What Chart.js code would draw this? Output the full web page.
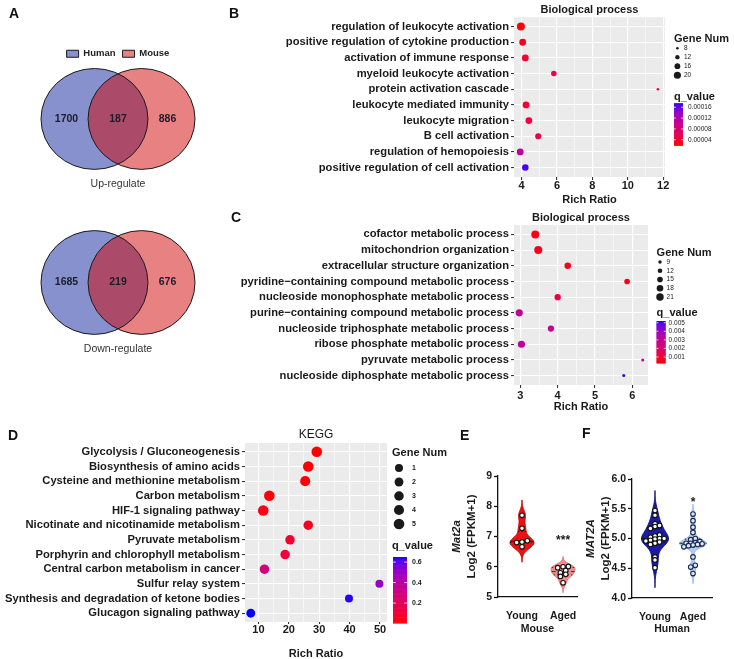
<!DOCTYPE html>
<html>
<head>
<meta charset="utf-8">
<title>Mat2a figure</title>
<script src="https://cdn.jsdelivr.net/npm/chart.js@4.4.1/dist/chart.umd.min.js"></script>
<style>
  body { margin: 0; background: #fff; }
  #page { position: relative; width: 734px; height: 659px; overflow: hidden; }
  .box { position: absolute; }
  .tag { position: absolute; font: bold 14px "Liberation Sans", Arial, sans-serif; color: #111; line-height: 14px; }
</style>
</head>
<body>
<div id="page">
  <div class="box" style="left:0;top:0;width:200px;height:198px"><canvas id="vennUp"></canvas></div>
  <div class="box" style="left:0;top:200px;width:200px;height:163px"><canvas id="vennDown"></canvas></div>
  <div class="box" style="left:190px;top:0;width:544px;height:205px"><canvas id="chartB"></canvas></div>
  <div class="box" style="left:190px;top:200px;width:544px;height:212px"><canvas id="chartC"></canvas></div>
  <div class="box" style="left:0;top:410px;width:480px;height:249px"><canvas id="chartD"></canvas></div>
  <div class="box" style="left:445px;top:465px;width:140px;height:170px"><canvas id="chartE"></canvas></div>
  <div class="box" style="left:580px;top:465px;width:154px;height:170px"><canvas id="chartF"></canvas></div>
  <div class="tag" style="left:9px;top:6px">A</div>
  <div class="tag" style="left:229px;top:6px">B</div>
  <div class="tag" style="left:231px;top:210px">C</div>
  <div class="tag" style="left:8px;top:428px">D</div>
  <div class="tag" style="left:460px;top:428px">E</div>
  <div class="tag" style="left:582px;top:426px">F</div>
</div>
<script>
// ---------- data ----------
// Panel A: Venn counts (Human only, shared, Mouse only)
const vennSets = ["Human", "Mouse"];
const vennUpCounts = [1700, 187, 886];
const vennDownCounts = [1685, 219, 676];

// Panel B: GO enrichment, up-regulated
const bTerms = [
  "regulation of leukocyte activation",
  "positive regulation of cytokine production",
  "activation of immune response",
  "myeloid leukocyte activation",
  "protein activation cascade",
  "leukocyte mediated immunity",
  "leukocyte migration",
  "B cell activation",
  "regulation of hemopoiesis",
  "positive regulation of cell activation"
];
const bRichRatio = [3.96, 4.06, 4.21, 5.82, 11.7, 4.25, 4.41, 4.94, 3.92, 4.21];
const bGeneNum = [23, 19, 19, 15, 8, 19, 19, 17, 19, 18];
const bQValue = [0.000022, 0.00003, 0.00004, 0.00005, 0.00006, 0.00004, 0.00005, 0.00006, 0.000108, 0.000168];
const bXTicks = [4, 5, 6, 7, 8, 9, 10, 11, 12];
const bXLabels = [4, 6, 8, 10, 12];
const bSizeTicks = [8, 12, 16, 20];
const bQTicks = [0.00004, 0.00008, 0.00012, 0.00016];

// Panel C: GO enrichment, down-regulated
const cTerms = [
  "cofactor metabolic process",
  "mitochondrion organization",
  "extracellular structure organization",
  "pyridine\u2212containing compound metabolic process",
  "nucleoside monophosphate metabolic process",
  "purine\u2212containing compound metabolic process",
  "nucleoside triphosphate metabolic process",
  "ribose phosphate metabolic process",
  "pyruvate metabolic process",
  "nucleoside diphosphate metabolic process"
];
const cRichRatio = [3.4, 3.48, 4.27, 5.86, 4.0, 2.97, 3.82, 3.03, 6.28, 5.77];
const cGeneNum = [23, 23, 18, 15, 17, 20, 17, 20, 8, 8];
const cQValue = [0.0005, 0.0005, 0.0007, 0.0007, 0.0013, 0.003, 0.0028, 0.003, 0.0033, 0.0051];
const cXTicks = [3, 3.5, 4, 4.5, 5, 5.5, 6];
const cXLabels = [3, 4, 5, 6];
const cSizeTicks = [9, 12, 15, 18, 21];
const cQTicks = [0.001, 0.002, 0.003, 0.004, 0.005];

// Panel D: KEGG
const dTerms = [
  "Glycolysis / Gluconeogenesis",
  "Biosynthesis of amino acids",
  "Cysteine and methionine metabolism",
  "Carbon metabolism",
  "HIF-1 signaling pathway",
  "Nicotinate and nicotinamide metabolism",
  "Pyruvate metabolism",
  "Porphyrin and chlorophyll metabolism",
  "Central carbon metabolism in cancer",
  "Sulfur relay system",
  "Synthesis and degradation of ketone bodies",
  "Glucagon signaling pathway"
];
const dRichRatio = [29.2, 26.4, 25.4, 13.6, 11.6, 26.4, 20.4, 18.8, 12.0, 49.8, 39.8, 7.5];
const dGeneNum = [5, 5, 4, 5, 5, 3, 3, 3, 3, 1, 1, 2];
const dQValue = [0.005, 0.01, 0.015, 0.01, 0.03, 0.05, 0.09, 0.1, 0.28, 0.5, 0.64, 0.65];
const dXTicks = [10, 15, 20, 25, 30, 35, 40, 45, 50];
const dXLabels = [10, 20, 30, 40, 50];
const dSizeTicks = [1, 2, 3, 4, 5];
const dQTicks = [0.2, 0.4, 0.6];

// Panels E / F: expression
const groups = ["Young", "Aged"];
const eYoung = [7.7, 7.27, 6.86, 6.82, 6.8, 6.66];
const eAged = [6.01, 6.0, 5.97, 5.88, 5.8, 5.75, 5.68, 5.47];
const eStars = ["", "***"];
const eStarY = [null, 6.85];
const fYoung = [5.47, 5.39, 5.25, 5.22, 5.2, 5.17, 5.06, 5.04, 5.02, 5.0, 5.0, 4.99, 4.97, 4.96, 4.94, 4.92, 4.9, 4.69, 4.64, 4.51];
const fAged = [5.41, 5.3, 5.19, 5.1, 5.0, 4.98, 4.95, 4.93, 4.92, 4.92, 4.91, 4.9, 4.89, 4.88, 4.86, 4.69, 4.55, 4.52, 4.41];
const fStars = ["", "*"];
const fStarY = [null, 5.6];

// ---------- helpers ----------
const FONT = '"Liberation Sans", Arial, sans-serif';
const INK = "#1a1a1a";
Chart.defaults.font.family = FONT;
Chart.defaults.color = INK;

// ggplot style red -> blue gradient, interpolated in CIELAB
function toLab(rgb) {
  const lin = rgb.map(c => { c /= 255; return c <= 0.04045 ? c / 12.92 : Math.pow((c + 0.055) / 1.055, 2.4); });
  const X = (0.4124 * lin[0] + 0.3576 * lin[1] + 0.1805 * lin[2]) / 0.95047;
  const Y = 0.2126 * lin[0] + 0.7152 * lin[1] + 0.0722 * lin[2];
  const Z = (0.0193 * lin[0] + 0.1192 * lin[1] + 0.9505 * lin[2]) / 1.08883;
  const f = t => t > 0.008856 ? Math.cbrt(t) : 7.787 * t + 16 / 116;
  return [116 * f(Y) - 16, 500 * (f(X) - f(Y)), 200 * (f(Y) - f(Z))];
}
function fromLab(lab) {
  const fy = (lab[0] + 16) / 116, fx = fy + lab[1] / 500, fz = fy - lab[2] / 200;
  const inv = t => t > 0.206893 ? t * t * t : (t - 16 / 116) / 7.787;
  const X = inv(fx) * 0.95047, Y = inv(fy), Z = inv(fz) * 1.08883;
  const lin = [3.2406 * X - 1.5372 * Y - 0.4986 * Z, -0.9689 * X + 1.8758 * Y + 0.0415 * Z, 0.0557 * X - 0.2040 * Y + 1.0570 * Z];
  const c = lin.map(v => {
    v = v <= 0.0031308 ? 12.92 * v : 1.055 * Math.pow(v, 1 / 2.4) - 0.055;
    return Math.round(Math.min(1, Math.max(0, v)) * 255);
  });
  return "rgb(" + c.join(",") + ")";
}
const LAB_LOW = toLab([255, 0, 0]);
const LAB_HIGH = toLab([0, 0, 255]);
function rampColor(t) {
  t = Math.min(1, Math.max(0, t));
  return fromLab(LAB_LOW.map((v, i) => v + (LAB_HIGH[i] - v) * t));
}

// grey ggplot panel
const panelBackground = {
  id: "panelBackground",
  beforeDraw(chart) {
    const { ctx, chartArea: a } = chart;
    ctx.save();
    ctx.fillStyle = "#ebebeb";
    ctx.fillRect(a.left, a.top, a.width, a.height);
    ctx.restore();
  }
};

// "Gene Num" size keys and "q_value" colour bar
function dotLegend(p, sizeOf) {
  return {
    id: "dotLegend",
    afterDraw(chart) {
      const { ctx, chartArea: a } = chart;
      const L = p.legend;
      const x0 = a.right + L.dx;
      ctx.save();
      ctx.textBaseline = "middle";
      ctx.textAlign = "left";
      ctx.fillStyle = INK;
      ctx.font = "bold " + L.titleSize + "px " + FONT;
      ctx.fillText("Gene Num", x0, a.top + L.sizeTitleY);
      p.sizeTicks.forEach((g, i) => {
        const y = a.top + L.sizeKeyY + i * L.sizeKeyStep;
        ctx.beginPath();
        ctx.arc(x0 + L.keyX, y, sizeOf(g), 0, Math.PI * 2);
        ctx.fill();
        ctx.font = L.labelWeight + " " + L.labelSize + "px " + FONT;
        ctx.fillText(String(g), x0 + L.labelX, y);
      });
      ctx.font = "bold " + L.titleSize + "px " + FONT;
      ctx.fillText("q_value", x0, a.top + L.qTitleY);
      const bx = x0 + L.barX, by = a.top + L.barY, bw = L.barW, bh = L.barH;
      const bins = 80;
      for (let k = 0; k < bins; k++) {
        ctx.fillStyle = rampColor(1 - (k + 0.5) / bins);
        ctx.fillRect(bx, by + k * bh / bins, bw, bh / bins + 0.6);
      }
      const [q0, q1] = p.qRange;
      ctx.strokeStyle = "#fff";
      ctx.lineWidth = 0.8;
      ctx.fillStyle = INK;
      ctx.font = L.labelWeight + " " + L.labelSize + "px " + FONT;
      p.qTicks.forEach(q => {
        const y = by + bh * (1 - (q - q0) / (q1 - q0));
        ctx.beginPath();
        ctx.moveTo(bx, y); ctx.lineTo(bx + bw * 0.2, y);
        ctx.moveTo(bx + bw * 0.8, y); ctx.lineTo(bx + bw, y);
        ctx.stroke();
        ctx.fillText(q.toFixed(p.qDigits), bx + bw + L.barGap, y);
      });
      ctx.restore();
    }
  };
}

function dotChart(canvasId, p) {
  const gLo = Math.sqrt(p.sizeRange[0]), gHi = Math.sqrt(p.sizeRange[1]);
  const sizeOf = g => p.rMin + (p.rMax - p.rMin) * (Math.sqrt(g) - gLo) / (gHi - gLo);
  const colourOf = q => rampColor((q - p.qRange[0]) / (p.qRange[1] - p.qRange[0]));
  const isMajor = v => p.xLabels.includes(v);
  const n = p.terms.length;
  return new Chart(document.getElementById(canvasId), {
    type: "scatter",
    data: {
      datasets: [{
        data: p.ratio.map((x, i) => ({ x: x, y: i })),
        pointRadius: p.genes.map(sizeOf),
        pointBackgroundColor: p.q.map(colourOf),
        pointBorderWidth: 0,
        clip: false
      }]
    },
    options: {
      responsive: true,
      maintainAspectRatio: false,
      animation: false,
      events: [],
      layout: { padding: { left: 0, right: p.padRight, top: 0, bottom: 0 } },
      plugins: {
        legend: { display: false },
        tooltip: { enabled: false },
        title: { display: true, text: p.title, fullSize: false, color: INK, font: p.titleFont, padding: p.titlePad }
      },
      scales: {
        x: {
          type: "linear",
          min: p.xRange[0],
          max: p.xRange[1],
          afterBuildTicks: s => { s.ticks = p.xTicks.map(value => ({ value })); },
          afterFit: s => { s.height = p.xHeight; },
          grid: {
            color: "#fff",
            lineWidth: c => (c.tick && isMajor(c.tick.value)) ? 1.1 : 0.55,
            tickColor: c => (c.tick && isMajor(c.tick.value)) ? "#333" : "rgba(0,0,0,0)",
            tickLength: p.tickLen
          },
          border: { display: false },
          ticks: {
            autoSkip: false, maxRotation: 0, padding: p.xTickPad, color: INK,
            font: { size: 11, weight: "bold", lineHeight: 1 },
            callback: v => isMajor(v) ? String(v) : ""
          },
          title: { display: true, text: "Rich Ratio", color: INK, font: { size: 11, weight: "bold", lineHeight: 1 }, padding: { top: p.xTitlePad, bottom: 0 } }
        },
        y: {
          type: "linear",
          reverse: true,
          min: -0.6,
          max: n - 0.4,
          afterBuildTicks: s => { s.ticks = p.terms.map((t, i) => ({ value: i })); },
          afterFit: s => { s.width = p.yWidth; },
          grid: { color: "#fff", lineWidth: 1.1, tickColor: "#333", tickLength: 3 },
          border: { display: false },
          ticks: { autoSkip: false, padding: 2, color: INK, font: { size: p.labelSize, weight: "bold" }, callback: v => p.terms[v] }
        }
      }
    },
    plugins: [panelBackground, dotLegend(p, sizeOf)]
  });
}

// ---------- Panel A: Venn diagrams ----------
// set centres on the x scale; each set is one unit wide/high on both scales
const vennCentre = [-0.44, 0.44];
const vennFill = ["rgba(15,35,155,0.5)", "rgba(209,5,5,0.5)"];

function vennPlugin(counts) {
  return {
    id: "venn",
    afterDatasetsDraw(chart) {
      const { ctx, scales: { x, y } } = chart;
      const cy = y.getPixelForValue(0);
      const ry = Math.abs(y.getPixelForValue(1) - cy);
      const rx = Math.abs(x.getPixelForValue(1) - x.getPixelForValue(0));
      const cx = chart.data.datasets.map(ds => x.getPixelForValue(ds.data[0].x));
      ctx.save();
      chart.data.datasets.forEach((ds, i) => {
        ctx.beginPath();
        ctx.ellipse(cx[i], cy, rx, ry, 0, 0, Math.PI * 2);
        ctx.fillStyle = ds.backgroundColor;
        ctx.fill();
      });
      ctx.strokeStyle = "#1a1a1a";
      ctx.lineWidth = 1;
      cx.forEach(px => { ctx.beginPath(); ctx.ellipse(px, cy, rx, ry, 0, 0, Math.PI * 2); ctx.stroke(); });
      const xs = [(cx[0] - rx + cx[1] - rx) / 2 + 2, (cx[0] + cx[1]) / 2, (cx[0] + rx + cx[1] + rx) / 2 - 4];
      ctx.font = "bold 10.5px " + FONT;
      ctx.fillStyle = "#1c1c2a";
      ctx.textAlign = "center";
      ctx.textBaseline = "middle";
      counts.forEach((c, i) => ctx.fillText(String(c), xs[i], cy));
      ctx.restore();
    }
  };
}

function vennChart(canvasId, counts, caption, withLegend, padTop) {
  return new Chart(document.getElementById(canvasId), {
    type: "scatter",
    data: {
      datasets: vennSets.map((label, i) => ({
        label: label,
        data: [{ x: vennCentre[i], y: 0 }],
        backgroundColor: vennFill[i],
        borderColor: "#1a1a1a",
        borderWidth: 1,
        pointRadius: 0
      }))
    },
    options: {
      responsive: true,
      maintainAspectRatio: false,
      animation: false,
      events: [],
      layout: { padding: { left: 41, right: 5, top: padTop, bottom: 0 } },
      scales: {
        x: { display: false, min: -1.44, max: 1.44 },
        y: { display: false, min: -1, max: 1 }
      },
      plugins: {
        tooltip: { enabled: false },
        legend: {
          display: withLegend,
          position: "top",
          fullSize: false,
          labels: { boxWidth: 12, boxHeight: 7, padding: 7, color: "#222", font: { size: 9.5, weight: "bold" } }
        },
        title: {
          display: true, position: "bottom", text: caption, color: "#333",
          font: { size: 10.5, weight: "normal", lineHeight: 1.2 },
          padding: { top: 8, bottom: 8 }
        }
      }
    },
    plugins: [vennPlugin(counts)]
  });
}

vennChart("vennUp", vennUpCounts, "Up-regulate", true, 42);
vennChart("vennDown", vennDownCounts, "Down-regulate", false, 30.6);

// ---------- Panels B, C, D: bubble dot plots ----------
dotChart("chartB", {
  title: "Biological process", titleFont: { size: 11, weight: "bold", lineHeight: 1.2 }, titlePad: { top: 3, bottom: 1 },
  terms: bTerms, ratio: bRichRatio, genes: bGeneNum, q: bQValue,
  xRange: [3.57, 12.1], xTicks: bXTicks, xLabels: bXLabels,
  sizeRange: [8, 23], rMin: 1.3, rMax: 4.0, sizeTicks: bSizeTicks,
  qRange: [0.00002, 0.000175], qTicks: bQTicks, qDigits: 5,
  yWidth: 324, padRight: 69, xHeight: 28, labelSize: 11.2, tickLen: 3, xTickPad: 0, xTitlePad: 0,
  legend: { dx: 9, sizeTitleY: 22, sizeKeyY: 31, sizeKeyStep: 9, keyX: 3.4, labelX: 10, qTitleY: 80,
            barX: 0, barY: 86, barW: 9, barH: 42, barGap: 5, titleSize: 11, labelSize: 6.5, labelWeight: "normal" }
});

dotChart("chartC", {
  title: "Biological process", titleFont: { size: 11, weight: "bold", lineHeight: 1.2 }, titlePad: { top: 11, bottom: 0.8 },
  terms: cTerms, ratio: cRichRatio, genes: cGeneNum, q: cQValue,
  xRange: [2.83, 6.42], xTicks: cXTicks, xLabels: cXLabels,
  sizeRange: [8, 23], rMin: 1.5, rMax: 4.0, sizeTicks: cSizeTicks,
  qRange: [0.0003, 0.0052], qTicks: cQTicks, qDigits: 3,
  yWidth: 324, padRight: 86, xHeight: 27, labelSize: 11.2, tickLen: 3, xTickPad: 2, xTitlePad: 1,
  legend: { dx: 8.6, sizeTitleY: 28, sizeKeyY: 37, sizeKeyStep: 8.75, keyX: 3.4, labelX: 10, qTitleY: 88,
            barX: 0, barY: 96, barW: 9, barH: 42, barGap: 3, titleSize: 11, labelSize: 6.5, labelWeight: "normal" }
});

dotChart("chartD", {
  title: "KEGG", titleFont: { size: 12, weight: "normal", lineHeight: 1.2 }, titlePad: { top: 17, bottom: 1.6 },
  terms: dTerms, ratio: dRichRatio, genes: dGeneNum, q: dQValue,
  xRange: [5.6, 52.3], xTicks: dXTicks, xLabels: dXLabels,
  sizeRange: [1, 5], rMin: 4.0, rMax: 5.3, sizeTicks: dSizeTicks,
  qRange: [0.005, 0.65], qTicks: dQTicks, qDigits: 1,
  yWidth: 245, padRight: 93, xHeight: 37, labelSize: 11.2, tickLen: 2, xTickPad: 0, xTitlePad: 3,
  legend: { dx: 5, sizeTitleY: 10, sizeKeyY: 25, sizeKeyStep: 14, keyX: 7, labelX: 20, qTitleY: 103,
            barX: 1, barY: 114, barW: 14, barH: 66, barGap: 5, titleSize: 11, labelSize: 7, labelWeight: "bold" }
});

// ---------- Panels E, F: violins ----------
function quantile(vals, p) {
  const s = vals.slice().sort((a, b) => a - b);
  const pos = (s.length - 1) * p, lo = Math.floor(pos), hi = Math.ceil(pos);
  return s[lo] + (s[hi] - s[lo]) * (pos - lo);
}
function silverman(vals) {
  const n = vals.length;
  const mean = vals.reduce((a, b) => a + b, 0) / n;
  const sd = Math.sqrt(vals.reduce((a, b) => a + (b - mean) * (b - mean), 0) / (n - 1));
  const iqr = quantile(vals, 0.75) - quantile(vals, 0.25);
  return 0.9 * Math.min(sd, iqr / 1.34) * Math.pow(n, -0.2);
}
function density(vals, h, y) {
  let s = 0;
  vals.forEach(v => { const u = (y - v) / h; s += Math.exp(-0.5 * u * u); });
  return s / (vals.length * h);
}
// spread near-equal values side by side (column scatter)
function swarm(vals, tol, step) {
  const order = vals.map((v, i) => i).sort((a, b) => vals[a] - vals[b]);
  const off = vals.map(() => 0);
  let i = 0;
  while (i < order.length) {
    let j = i;
    while (j + 1 < order.length && vals[order[j + 1]] - vals[order[i]] < tol) j++;
    const m = j - i + 1;
    for (let k = 0; k < m; k++) off[order[i + k]] = (k - (m - 1) / 2) * step;
    i = j + 1;
  }
  return off;
}

function violinPlugin(p) {
  return {
    id: "violins",
    beforeDatasetsDraw(chart) {
      const { ctx, scales: { x, y } } = chart;
      p.values.forEach((vals, gi) => {
        const h = silverman(vals) * p.bwAdjust;
        const lo = Math.min(...vals) - 3 * h, hi = Math.max(...vals) + 3 * h;
        const prof = [];
        for (let k = 0; k <= 120; k++) {
          const v = lo + (hi - lo) * k / 120;
          prof.push([v, density(vals, h, v)]);
        }
        const dMax = Math.max(...prof.map(d => d[1]));
        const cx = x.getPixelForValue(gi);
        ctx.save();
        ctx.beginPath();
        prof.forEach(([v, d], k) => {
          const px = cx + p.halfWidth * d / dMax, py = y.getPixelForValue(v);
          if (k) ctx.lineTo(px, py); else ctx.moveTo(px, py);
        });
        for (let k = prof.length - 1; k >= 0; k--) {
          ctx.lineTo(cx - p.halfWidth * prof[k][1] / dMax, y.getPixelForValue(prof[k][0]));
        }
        ctx.closePath();
        ctx.fillStyle = p.violinFill[gi];
        ctx.fill();
        ctx.lineWidth = 1;
        ctx.strokeStyle = p.violinEdge[gi];
        ctx.stroke();
        // median dashed, quartiles dotted
        ctx.strokeStyle = p.lineColor[gi];
        [0.25, 0.5, 0.75].forEach(q => {
          const v = quantile(vals, q);
          const w = p.halfWidth * density(vals, h, v) / dMax;
          const py = y.getPixelForValue(v);
          ctx.setLineDash(q === 0.5 ? [4, 2.5] : [1.5, 2]);
          ctx.beginPath();
          ctx.moveTo(cx - w, py);
          ctx.lineTo(cx + w, py);
          ctx.stroke();
        });
        ctx.restore();
      });
    },
    afterDraw(chart) {
      const { ctx, chartArea: a, scales: { x, y } } = chart;
      ctx.save();
      ctx.fillStyle = INK;
      ctx.textAlign = "center";
      ctx.textBaseline = "middle";
      ctx.font = "bold 12px " + FONT;
      p.stars.forEach((s, gi) => {
        if (s) ctx.fillText(s, x.getPixelForValue(gi), y.getPixelForValue(p.starY[gi]));
      });
      // two-line y title: gene name in italics
      const cy = (a.top + a.bottom) / 2;
      ctx.translate(a.left - 41, cy);
      ctx.rotate(-Math.PI / 2);
      ctx.font = "italic bold 11.5px " + FONT;
      ctx.fillText(p.gene, 0, 0);
      ctx.font = "bold 11.5px " + FONT;
      ctx.fillText("Log2 (FPKM+1)", 0, 15);
      ctx.restore();
    }
  };
}

function violinChart(canvasId, p) {
  const datasets = p.values.map((vals, gi) => {
    const off = swarm(vals, p.swarmTol, p.swarmStep);
    return {
      label: groups[gi],
      data: vals.map((v, k) => ({ x: gi + off[k], y: v })),
      pointRadius: 2.3,
      pointBorderWidth: 1.1,
      pointBackgroundColor: p.dotFill[gi],
      pointBorderColor: p.dotEdge[gi],
      clip: false
    };
  });
  return new Chart(document.getElementById(canvasId), {
    type: "scatter",
    data: { datasets: datasets },
    options: {
      responsive: true,
      maintainAspectRatio: false,
      animation: false,
      events: [],
      layout: { padding: { left: 0, right: p.padRight, top: p.padTop, bottom: 0 } },
      plugins: { legend: { display: false }, tooltip: { enabled: false } },
      scales: {
        x: {
          type: "linear",
          min: p.xRange[0],
          max: p.xRange[1],
          afterBuildTicks: s => { s.ticks = groups.map((g, i) => ({ value: i })); },
          afterFit: s => { s.height = p.xHeight; },
          grid: { display: false },
          border: { display: true, color: "#111", width: 1.3 },
          ticks: { autoSkip: false, maxRotation: 0, padding: 5, color: INK, font: { size: 10.5, weight: "bold" }, callback: v => groups[v] },
          title: { display: true, text: p.species, color: INK, font: { size: 10.5, weight: "bold" }, padding: { top: 2, bottom: 0 } }
        },
        y: {
          type: "linear",
          min: p.yRange[0],
          max: p.yRange[1],
          afterFit: s => { s.width = p.yWidth; },
          grid: { drawOnChartArea: false, tickLength: 4, tickColor: "#111", tickWidth: 1.3 },
          border: { display: true, color: "#111", width: 1.3 },
          ticks: { stepSize: p.yStep, padding: 2, color: INK, font: { size: 10.5, weight: "bold" }, callback: v => v.toFixed(p.yDigits) }
        }
      }
    },
    plugins: [violinPlugin(p)]
  });
}

violinChart("chartE", {
  values: [eYoung, eAged], species: "Mouse", gene: "Mat2a",
  stars: eStars, starY: eStarY,
  xRange: [-0.585, 1.34], yRange: [5, 9], yStep: 1, yDigits: 0,
  yWidth: 53, xHeight: 38, padRight: 8, padTop: 11,
  halfWidth: 12, bwAdjust: 1, swarmTol: 0.12, swarmStep: 0.13,
  violinFill: ["#ee1212", "#f28b8b"], violinEdge: ["#c40000", "#e06a6a"], lineColor: ["#222", "#333"],
  dotFill: ["#fff", "#fff"], dotEdge: ["#111", "#111"]
});

violinChart("chartF", {
  values: [fYoung, fAged], species: "Human", gene: "MAT2A",
  stars: fStars, starY: fStarY,
  xRange: [-0.605, 1.5], yRange: [4, 6], yStep: 0.5, yDigits: 1,
  yWidth: 52, xHeight: 37, padRight: 22, padTop: 14,
  halfWidth: 13.5, bwAdjust: 1.25, swarmTol: 0.05, swarmStep: 0.12,
  violinFill: ["#1b1ba5", "#b3cbee"], violinEdge: ["#10107a", "#98b6e4"], lineColor: ["#111", "#223"],
  dotFill: ["#fff", "#dde8f8"], dotEdge: ["#111", "#1a2a50"]
});
</script>
</body>
</html>
